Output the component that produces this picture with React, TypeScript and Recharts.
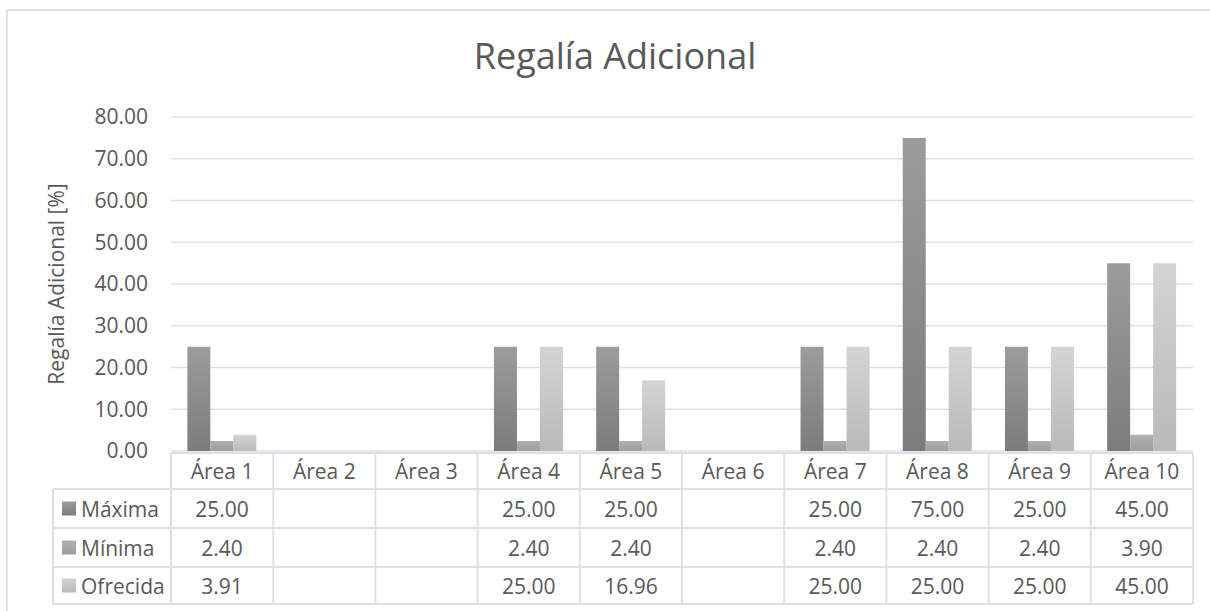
import { BarChart, Bar, XAxis, YAxis, CartesianGrid } from "recharts";

const areas = ["Área 1", "Área 2", "Área 3", "Área 4", "Área 5", "Área 6", "Área 7", "Área 8", "Área 9", "Área 10"];
const maxima = [25, null, null, 25, 25, null, 25, 75, 25, 45];
const minima = [2.4, null, null, 2.4, 2.4, null, 2.4, 2.4, 2.4, 3.9];
const ofrecida = [3.91, null, null, 25, 16.96, null, 25, 25, 25, 45];
const yTicks = [0, 10, 20, 30, 40, 50, 60, 70, 80];

const series = [
  { key: "maxima", name: "Máxima", values: maxima, grad: "gMax", top: "#9c9c9c", bottom: "#7c7c7c" },
  { key: "minima", name: "Mínima", values: minima, grad: "gMin", top: "#b0b0b0", bottom: "#9e9e9e" },
  { key: "ofrecida", name: "Ofrecida", values: ofrecida, grad: "gOfr", top: "#d4d4d4", bottom: "#b9b9b9" },
];

const data = areas.map((area, i) => ({
  area,
  maxima: maxima[i],
  minima: minima[i],
  ofrecida: ofrecida[i],
}));

const W = 1210;
const H = 611;
const PLOT_LEFT = 171;
const PLOT_RIGHT = 1193;
const Y_AXIS_W = 100;
const BAND = (PLOT_RIGHT - PLOT_LEFT) / areas.length;
const TEXT = "#595959";
const LINE = "#dde1e6";
const FONT = "'Open Sans', sans-serif";

// row edges of the data table, relative to the x axis line
const ROWS = [2, 38, 77, 116, 153];

function fmt(v: number | null) {
  return v == null ? "" : v.toFixed(2);
}

function TableTick(props: any) {
  const { x, y, payload } = props;
  const i = payload.index;
  const left = x - BAND / 2;
  const right = x + BAND / 2;
  const mid = (a: number, b: number) => (y + ROWS[a] + y + ROWS[b]) / 2;
  const labelLeft = 53;

  return (
    <g>
      {ROWS.map((r) => (
        <line key={r} x1={left} x2={right} y1={y + r} y2={y + r} stroke={LINE} strokeWidth={2} />
      ))}
      <line x1={left} x2={left} y1={y + ROWS[0]} y2={y + ROWS[4]} stroke={LINE} strokeWidth={2} />
      {i === areas.length - 1 && (
        <line x1={right} x2={right} y1={y + ROWS[0]} y2={y + ROWS[4]} stroke={LINE} strokeWidth={2} />
      )}
      <text x={x} y={mid(0, 1)} textAnchor="middle" dominantBaseline="central" fill={TEXT} fontSize={21} fontFamily={FONT}>
        {payload.value}
      </text>
      {series.map((s, k) => (
        <text key={s.key} x={x} y={mid(k + 1, k + 2)} textAnchor="middle" dominantBaseline="central" fill={TEXT} fontSize={21} fontFamily={FONT}>
          {fmt(s.values[i])}
        </text>
      ))}
      {i === 0 && (
        <g>
          {ROWS.slice(1).map((r) => (
            <line key={r} x1={labelLeft} x2={left} y1={y + r} y2={y + r} stroke={LINE} strokeWidth={2} />
          ))}
          <line x1={labelLeft} x2={labelLeft} y1={y + ROWS[1]} y2={y + ROWS[4]} stroke={LINE} strokeWidth={2} />
          {series.map((s, k) => (
            <g key={s.key}>
              <rect x={62} y={mid(k + 1, k + 2) - 7} width={14} height={14} fill={`url(#${s.grad})`} />
              <text x={81} y={mid(k + 1, k + 2)} dominantBaseline="central" fill={TEXT} fontSize={21} fontFamily={FONT}>
                {s.name}
              </text>
            </g>
          ))}
        </g>
      )}
    </g>
  );
}

export default function App() {
  return (
    <div style={{ position: "absolute", left: 0, top: 0, width: W, height: H, background: "#fff", overflow: "hidden" }}>
      <BarChart
        width={W}
        height={H}
        data={data}
        margin={{ top: 117, right: W - PLOT_RIGHT, bottom: 5, left: PLOT_LEFT - Y_AXIS_W }}
        barCategoryGap="16%"
        barGap={0}
      >
        <defs>
          {series.map((s) => (
            <linearGradient key={s.grad} id={s.grad} x1="0" y1="0" x2="0" y2="1">
              <stop offset="0%" stopColor={s.top} />
              <stop offset="100%" stopColor={s.bottom} />
            </linearGradient>
          ))}
        </defs>
        <CartesianGrid vertical={false} stroke={LINE} strokeWidth={1.5} />
        <XAxis
          dataKey="area"
          height={155}
          axisLine={false}
          tickLine={false}
          tickSize={0}
          tickMargin={0}
          interval={0}
          tick={<TableTick />}
        />
        <YAxis
          width={Y_AXIS_W}
          domain={[0, 80]}
          ticks={yTicks}
          axisLine={false}
          tickLine={false}
          tickSize={0}
          tickMargin={23}
          tickFormatter={(v: number) => v.toFixed(2)}
          tick={{ fill: TEXT, fontSize: 21, fontFamily: FONT }}
        />
        {series.map((s) => (
          <Bar key={s.key} dataKey={s.key} name={s.name} fill={`url(#${s.grad})`} isAnimationActive={false} />
        ))}
      </BarChart>
      <svg width={W} height={H} style={{ position: "absolute", left: 0, top: 0, pointerEvents: "none" }}>
        <line x1={7} x2={W} y1={10} y2={10} stroke="#d9d9d9" strokeWidth={1.5} />
        <line x1={7} x2={7} y1={10} y2={H} stroke="#d9d9d9" strokeWidth={1.5} />
        <text x={615} y={69} textAnchor="middle" fill={TEXT} fontSize={36} fontFamily={FONT}>
          Regalía Adicional
        </text>
        <text
          x={64}
          y={284}
          textAnchor="middle"
          transform="rotate(-90 64 284)"
          fill={TEXT}
          fontSize={21}
          fontFamily={FONT}
        >
          Regalía Adicional [%]
        </text>
      </svg>
    </div>
  );
}
